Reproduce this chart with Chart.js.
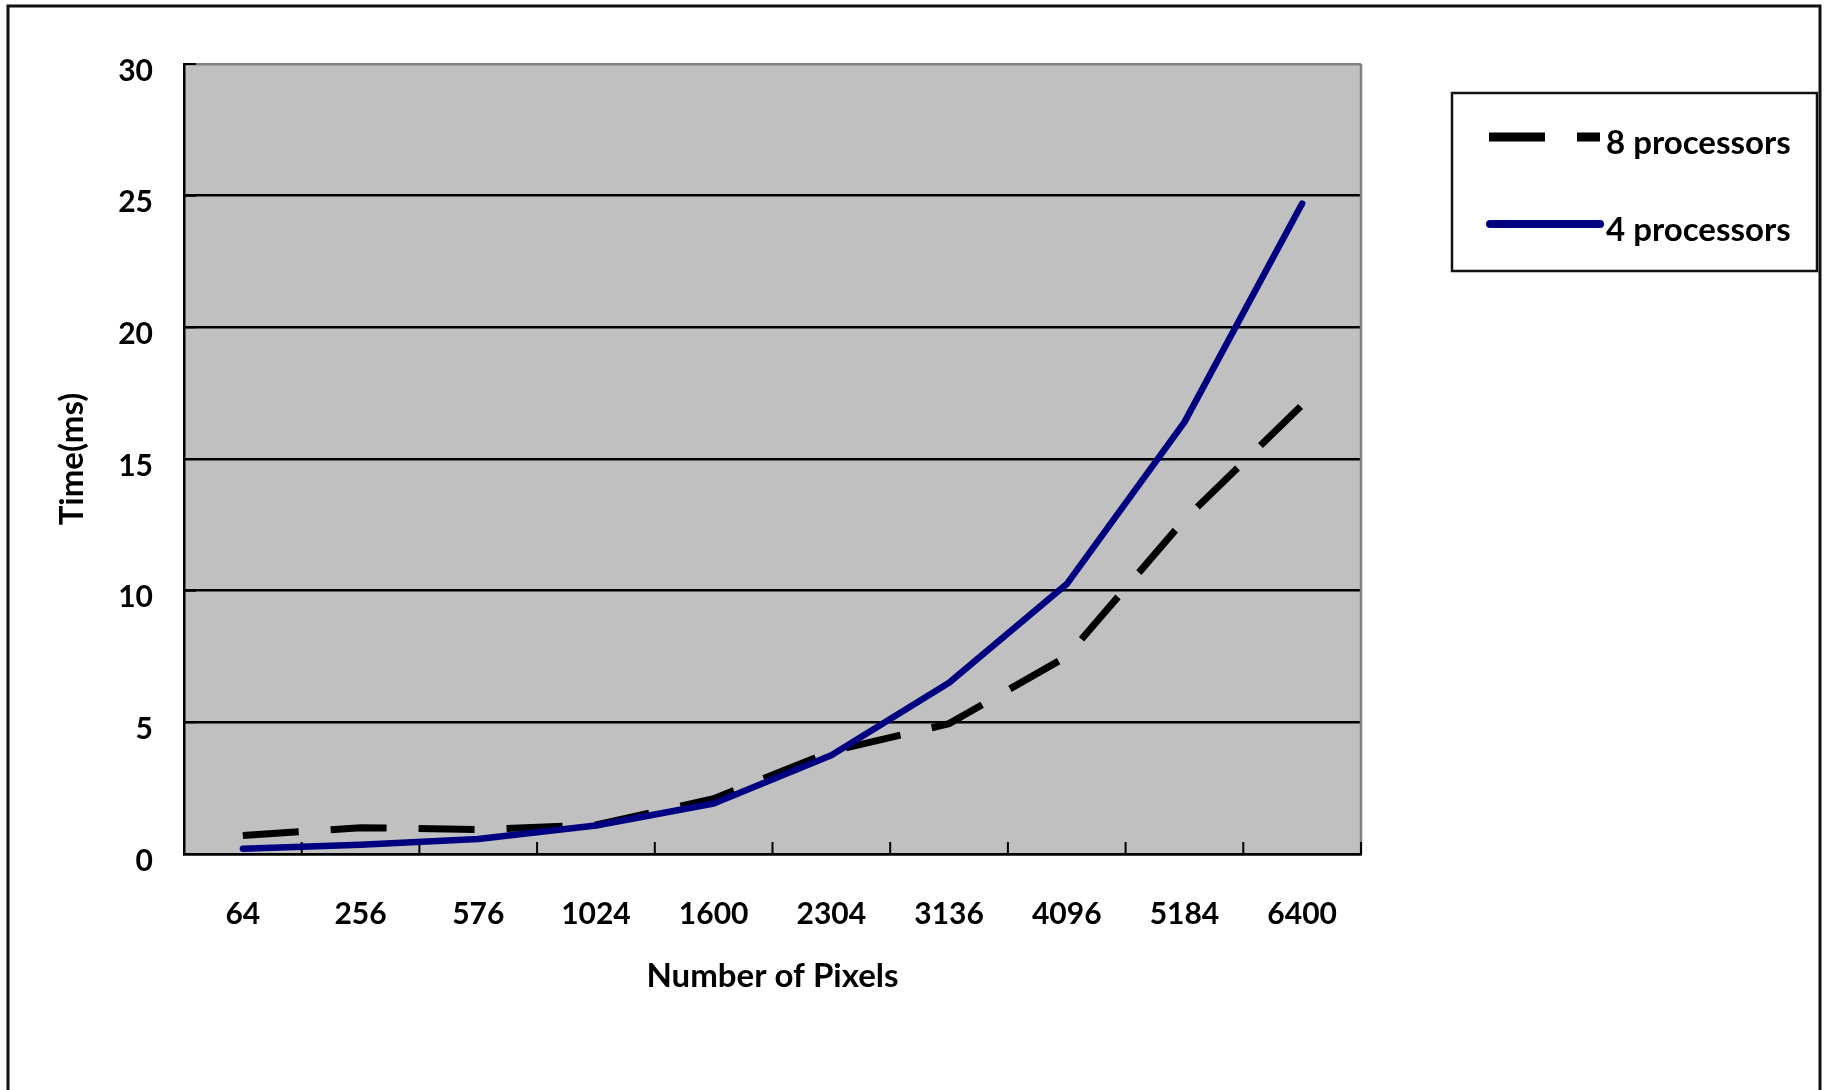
<!DOCTYPE html>
<html>
<head>
<meta charset="utf-8">
<script src="https://cdn.jsdelivr.net/npm/chart.js@4/dist/chart.umd.min.js"></script>
<style>
  html, body { margin: 0; padding: 0; background: #fff; }
  #wrap { width: 1827px; height: 1090px; position: relative; }
</style>
</head>
<body>
<div id="wrap"><canvas id="chart"></canvas></div>
<script>
// data
const pixelCounts = ["64", "256", "576", "1024", "1600", "2304", "3136", "4096", "5184", "6400"];
const eightProcTimes = [0.7, 1.0, 0.93, 1.1, 2.1, 3.9, 4.95, 7.5, 12.7, 17.05];
const fourProcTimes = [0.2, 0.35, 0.57, 1.08, 1.92, 3.75, 6.5, 10.25, 16.4, 24.7];
const seriesNames = ["8 processors", "4 processors"];
const yMin = 0, yMax = 30, yStep = 5;

const FONT = "Lato, 'Open Sans', sans-serif";

// grey plot background, inner ticks, right border, outer frame and legend
const decorations = {
  id: "decorations",
  beforeDraw(chart) {
    const { ctx, chartArea: a } = chart;
    ctx.save();
    ctx.fillStyle = "#c0c0c0";
    ctx.fillRect(a.left, a.top, a.right - a.left, a.bottom - a.top);
    ctx.restore();
  },
  beforeDatasetsDraw(chart) {
    const { ctx, chartArea: a, scales: { x, y } } = chart;
    ctx.save();
    ctx.strokeStyle = "#808080";
    ctx.lineWidth = 2.5;
    ctx.beginPath();
    ctx.moveTo(a.right, a.top);
    ctx.lineTo(a.right, a.bottom);
    ctx.stroke();

    ctx.strokeStyle = "#000";
    ctx.lineWidth = 2;
    const step = x.getPixelForValue(1) - x.getPixelForValue(0);
    ctx.beginPath();
    for (let i = 0; i <= pixelCounts.length; i++) {
      const px = x.getPixelForValue(0) - step / 2 + i * step;
      ctx.moveTo(px, a.bottom);
      ctx.lineTo(px, a.bottom - 12);
    }
    y.ticks.forEach(t => {
      const py = y.getPixelForValue(t.value);
      ctx.moveTo(a.left, py);
      ctx.lineTo(a.left + 12, py);
    });
    ctx.stroke();
    ctx.restore();
  },
  afterDraw(chart) {
    const { ctx, height } = chart;
    ctx.save();
    // outer frame (no bottom edge in view)
    ctx.strokeStyle = "#111";
    ctx.lineWidth = 3;
    ctx.beginPath();
    ctx.moveTo(8, height);
    ctx.lineTo(8, 6);
    ctx.lineTo(1820, 6);
    ctx.lineTo(1820, height);
    ctx.stroke();

    // legend box
    ctx.lineWidth = 2.5;
    ctx.strokeStyle = "#111";
    ctx.fillStyle = "#fff";
    ctx.fillRect(1452, 93, 364, 178);
    ctx.strokeRect(1452, 93, 365, 178);
    const rows = [137, 224];
    chart.data.datasets.forEach((ds, i) => {
      const yy = rows[i];
      ctx.beginPath();
      ctx.strokeStyle = ds.borderColor;
      ctx.lineWidth = ds.legendWidth;
      ctx.setLineDash(ds.borderDash || []);
      ctx.lineCap = ds.borderDash ? "butt" : "round";
      ctx.moveTo(ds.borderDash ? 1489 : 1490, yy);
      ctx.lineTo(1600, yy);
      ctx.stroke();
      ctx.setLineDash([]);
      ctx.fillStyle = "#000";
      ctx.font = "bold 33px " + FONT;
      ctx.textAlign = "left";
      ctx.textBaseline = "middle";
      ctx.fillText(ds.label, 1606, yy + 6);
    });
    ctx.restore();
  }
};

new Chart(document.getElementById("chart"), {
  type: "line",
  data: {
    labels: pixelCounts,
    datasets: [
      {
        label: seriesNames[0],
        data: eightProcTimes,
        borderColor: "#000000",
        borderWidth: 7,
        legendWidth: 9,
        borderDash: [56, 32],
        borderCapStyle: "butt",
        borderJoinStyle: "miter",
        pointRadius: 0,
        tension: 0,
        order: 1
      },
      {
        label: seriesNames[1],
        data: fourProcTimes,
        borderColor: "#000080",
        borderWidth: 6.5,
        legendWidth: 8,
        borderCapStyle: "round",
        borderJoinStyle: "round",
        pointRadius: 0,
        tension: 0,
        order: 0
      }
    ]
  },
  options: {
    responsive: true,
    maintainAspectRatio: false,
    animation: false,
    layout: { padding: { left: 50, top: 64, right: 466, bottom: 94 } },
    plugins: {
      legend: { display: false },
      tooltip: { enabled: false }
    },
    scales: {
      x: {
        type: "category",
        offset: true,
        grid: { display: false, drawTicks: false },
        border: { color: "#000", width: 2.5 },
        ticks: {
          color: "#000",
          font: { family: FONT, size: 30, weight: "bold" },
          padding: 42,
          maxRotation: 0,
          autoSkip: false
        },
        title: {
          display: true,
          text: "Number of Pixels",
          color: "#000",
          font: { family: FONT, size: 33, weight: "bold" },
          padding: { top: 0, bottom: 0 }
        },
        afterFit(scale) { scale.height = 142; }
      },
      y: {
        min: yMin,
        max: yMax,
        grid: {
          drawTicks: false,
          lineWidth: 2.5,
          color: c => (c.tick && c.tick.value === yMax ? "#808080" : "#000")
        },
        border: { color: "#000", width: 2.5 },
        ticks: {
          stepSize: yStep,
          color: "#000",
          font: { family: FONT, size: 30, weight: "bold" },
          padding: 31,
          labelOffset: 7
        },
        title: {
          display: true,
          text: "Time(ms)",
          color: "#000",
          font: { family: FONT, size: 33, weight: "bold" },
          padding: { top: 3, bottom: 0 }
        },
        afterFit(scale) { scale.width = 134; }
      }
    }
  },
  plugins: [decorations]
});
</script>
</body>
</html>
